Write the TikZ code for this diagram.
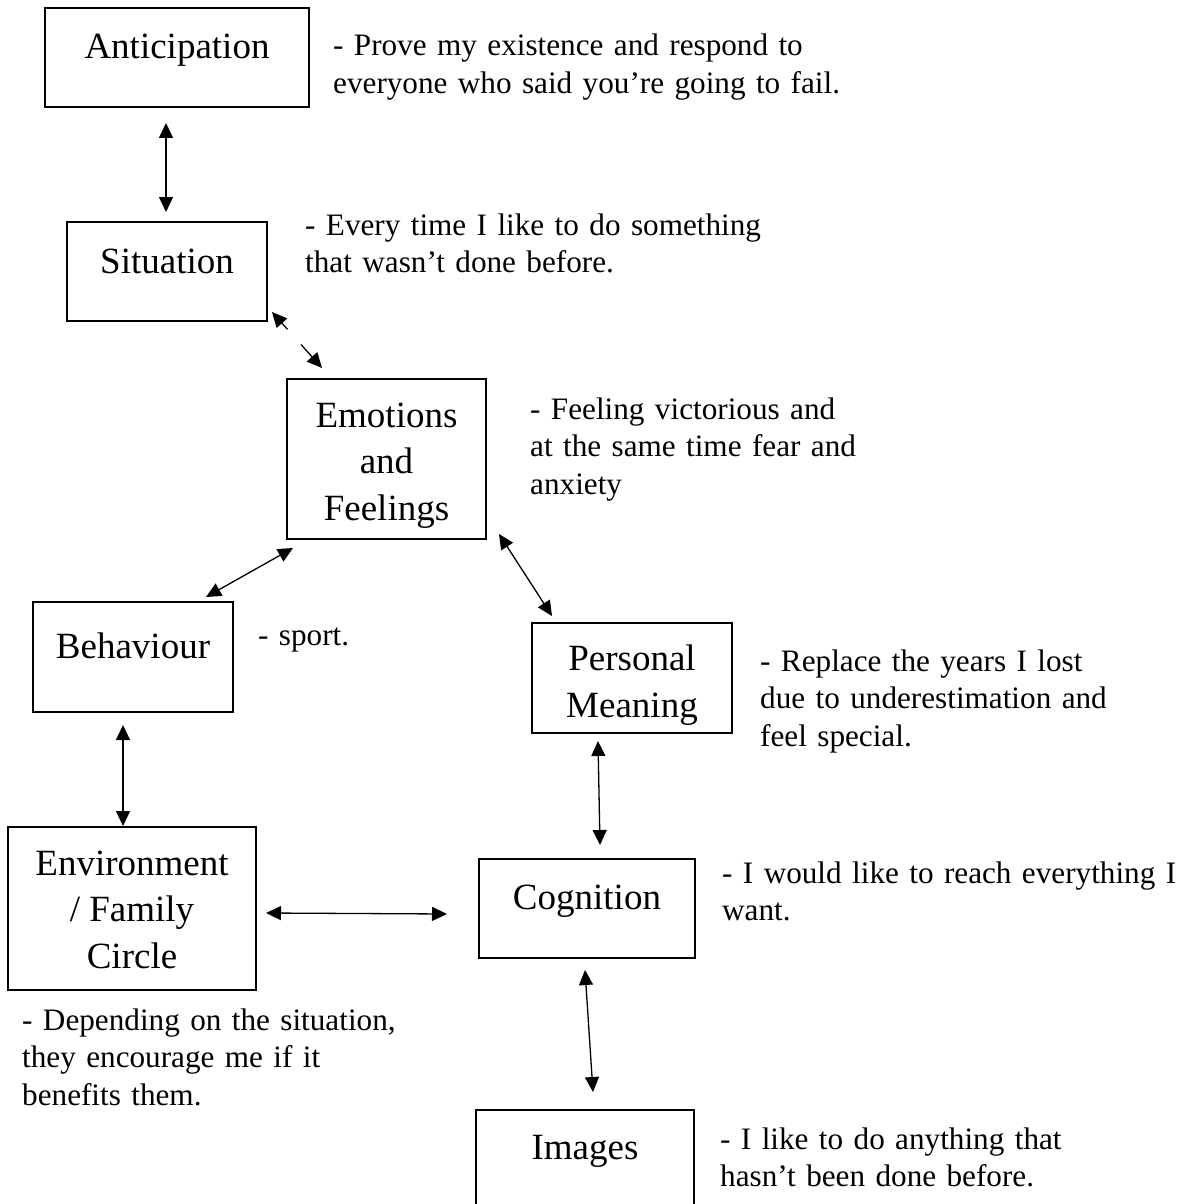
\documentclass[tikz,border=0pt]{standalone}
\usepackage{fontspec}
\setmainfont{Liberation Serif}
\usetikzlibrary{arrows.meta,calc}

% label sizes for the boxes and for the side notes
\newcommand{\lblfont}{\fontsize{37}{46.5}\selectfont}
\newcommand{\notefont}{\fontsize{31.2}{37.7}\selectfont}

\tikzset{
  box/.style={draw, line width=2pt, inner sep=0pt, align=center, font=\lblfont},
  note/.style={inner sep=0pt, align=left, text width=700pt, anchor=base west, font=\notefont},
  conn/.style={line width=1.3pt, >={Triangle[length=15pt,width=14pt]}, <->},
  half/.style={line width=1.3pt, >={Triangle[length=15pt,width=14pt]}, ->}
}

\begin{document}
\begin{tikzpicture}[x=1pt, y=-1pt]
  \useasboundingbox (0,0) rectangle (1181,1204);
  \fill[white] (0,0) rectangle (1181,1204);

  % boxes with a single line of text (text sits above the middle)
  \node[box, anchor=north west, minimum width=264pt, text height=51pt, text depth=48pt] (ant) at (44,7) {Anticipation};
  \node[box, anchor=north west, minimum width=200pt, text height=51pt, text depth=48pt] (sit) at (66,221) {Situation};
  \node[box, anchor=north west, minimum width=200pt, text height=56pt, text depth=54pt] (beh) at (32,601) {Behaviour};
  \node[box, anchor=north west, minimum width=216pt, text height=50pt, text depth=49pt] (cog) at (478,858) {Cognition};
  \node[box, anchor=north west, minimum width=218pt, text height=49pt, text depth=70pt] (img) at (475,1109) {Images};

  % boxes with several lines of text (a strut on the first line lowers the block a little)
  \node[box, minimum width=199pt, minimum height=160pt] (emo) at (386.5,459) {\rule{0pt}{37pt}Emotions\\and\\Feelings};
  \node[box, minimum width=200pt, minimum height=110pt] (pm) at (632,678) {\rule{0pt}{39.5pt}Personal\\Meaning};
  \node[box, minimum width=248pt, minimum height=163pt] (env) at (132,908.5) {\rule{0pt}{27pt}Environment\\/ Family\\Circle};

  % side notes
  \node[note] (nant) at (333,56) {- Prove my existence and respond to\\everyone who said you’re going to fail.};
  \node[note] (nsit) at (305,235) {- Every time I like to do something\\that wasn’t done before.};
  \node[note] (nemo) at (530,419) {- Feeling victorious and\\at the same time fear and\\anxiety};
  \node[note] (nbeh) at (258,645) {- sport.};
  \node[note] (npm) at (760,671) {- Replace the years I lost\\due to underestimation and\\feel special.};
  \node[note] (ncog) at (722,883) {- I would like to reach everything I\\want.};
  \node[note] (nenv) at (22,1030) {- Depending on the situation,\\they encourage me if it\\benefits them.};
  \node[note] (nimg) at (720,1149) {- I like to do anything that\\hasn’t been done before.};

  % connectors
  \draw[conn] ($(ant.south)+(-11,15)$) -- ($(sit.north)+(-1,-9)$);
  \draw[conn] ($(emo.south west)+(7,8)$) -- ($(beh.north)+(73,-4)$);
  \draw[conn] ($(emo.south east)+(12,-6)$) -- ($(pm.north west)+(21,-6)$);
  \draw[conn] ($(beh.south)+(-10,12)$) -- ($(env.north)+(-9,0)$);
  \draw[conn] ($(env.east)+(9,4.5)$) -- ($(cog.west)+(-31,5.5)$);
  \draw[conn] ($(pm.south)+(-34,7)$) -- ($(cog.north)+(13,-13)$);
  \draw[conn] ($(cog.south)+(-2,11)$) -- ($(img.north)+(8,-17)$);

  % broken connector between Situation and Emotions
  \coordinate (ts) at ($(sit.south east)+(4,-10)$);
  \coordinate (te) at ($(emo.north west)+(36,-10)$);
  \coordinate (g1) at ($(ts)!0.31!(te)$);
  \coordinate (g2) at ($(ts)!0.58!(te)$);
  \draw[half] (g1) -- (ts);
  \draw[half] (g2) -- (te);
\end{tikzpicture}
\end{document}
